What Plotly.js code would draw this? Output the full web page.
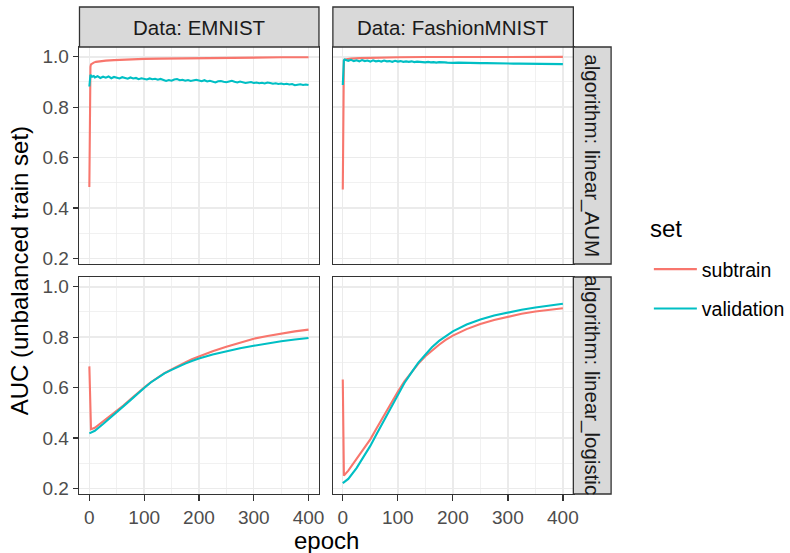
<!DOCTYPE html>
<html>
<head>
<meta charset="utf-8">
<script src="https://cdn.plot.ly/plotly-3.0.1.min.js"></script>
<style>html,body{margin:0;padding:0;background:#fff;}#chart{width:790px;height:553px;}</style>
</head>
<body>
<div id="chart"></div>
<script>
// ---------- data ----------
const setNames = ["subtrain", "validation"];
const legendTitle = "set";
const dataNames = ["Data: EMNIST", "Data: FashionMNIST"];
const algoNames = ["algorithm: linear_AUM", "algorithm: linear_logistic"];
const xTicks = [0, 100, 200, 300, 400];
const yTicks = [0.2, 0.4, 0.6, 0.8, 1.0];

// EMNIST / linear_AUM
const emAumSubEpoch = [0, 1, 2, 3, 5, 8, 12, 20, 30, 45, 60, 80, 100, 130, 160, 200, 250, 300, 350, 400];
const emAumSubAuc   = [0.483, 0.900, 0.960, 0.970, 0.974, 0.977, 0.980, 0.983, 0.985, 0.987, 0.989, 0.991, 0.992, 0.993, 0.994, 0.995, 0.996, 0.997, 0.998, 0.998];
const emAumValEpoch = [0, 1, 2, 3, 5, 8, 10, 15, 20, 25, 30, 35, 40, 45, 50, 55, 60, 65, 70, 75, 80, 85, 90, 95, 100,
  105, 110, 115, 120, 125, 130, 135, 140, 145, 150, 155, 160, 165, 170, 175, 180, 185, 190, 195, 200,
  205, 210, 215, 220, 225, 230, 235, 240, 245, 250, 255, 260, 265, 270, 275, 280, 285, 290, 295, 300,
  305, 310, 315, 320, 325, 330, 335, 340, 345, 350, 355, 360, 365, 370, 375, 380, 385, 390, 395, 400];
const emAumValAuc = [0.882, 0.915, 0.928, 0.925, 0.921, 0.924, 0.918, 0.923, 0.916, 0.921, 0.917, 0.922, 0.915, 0.920, 0.918, 0.914, 0.919, 0.916, 0.913, 0.918, 0.914, 0.916, 0.911, 0.915, 0.913,
  0.910, 0.914, 0.911, 0.913, 0.909, 0.912, 0.907, 0.904, 0.908, 0.905, 0.910, 0.912, 0.907, 0.909, 0.905, 0.908, 0.904, 0.906, 0.909, 0.906,
  0.903, 0.907, 0.902, 0.905, 0.900, 0.898, 0.903, 0.904, 0.901, 0.899, 0.902, 0.905, 0.901, 0.898, 0.902, 0.899, 0.896, 0.898, 0.900, 0.896,
  0.898, 0.895, 0.897, 0.894, 0.898, 0.896, 0.893, 0.895, 0.892, 0.894, 0.891, 0.893, 0.890, 0.892, 0.887, 0.889, 0.891, 0.888, 0.890, 0.888];

// FashionMNIST / linear_AUM
const faAumSubEpoch = [0, 1, 2, 4, 8, 15, 30, 60, 100, 150, 250, 400];
const faAumSubAuc   = [0.473, 0.930, 0.985, 0.989, 0.991, 0.993, 0.995, 0.997, 0.998, 0.999, 0.9995, 0.9998];
const faAumValEpoch = [0, 1, 2, 3, 5, 10, 15, 20, 25, 30, 35, 40, 45, 50, 55, 60, 65, 70, 75, 80, 85, 90, 95, 100,
  105, 110, 115, 120, 125, 130, 135, 140, 145, 150, 155, 160, 165, 170, 175, 180, 185, 190, 195, 200,
  210, 220, 230, 240, 250, 260, 270, 280, 290, 300, 310, 320, 330, 340, 350, 360, 370, 380, 390, 400];
const faAumValAuc = [0.888, 0.960, 0.985, 0.989, 0.987, 0.984, 0.988, 0.983, 0.986, 0.982, 0.987, 0.983, 0.985, 0.981, 0.986, 0.982, 0.984, 0.981, 0.985, 0.982, 0.983, 0.980, 0.984, 0.981,
  0.983, 0.980, 0.982, 0.980, 0.982, 0.979, 0.981, 0.979, 0.980, 0.978, 0.980, 0.978, 0.979, 0.977, 0.979, 0.977, 0.978, 0.977, 0.978, 0.976,
  0.977, 0.976, 0.976, 0.975, 0.975, 0.975, 0.974, 0.974, 0.974, 0.974, 0.973, 0.973, 0.973, 0.973, 0.972, 0.972, 0.972, 0.972, 0.971, 0.971];

// EMNIST / linear_logistic
const emLogSubEpoch = [0, 3, 10, 25, 37, 50, 62, 75, 87, 100, 112, 125, 137, 150, 162, 175, 187, 200, 225, 250, 275, 300, 325, 350, 375, 400];
const emLogSubAuc   = [0.684, 0.434, 0.440, 0.465, 0.484, 0.505, 0.528, 0.553, 0.577, 0.600, 0.621, 0.640, 0.657, 0.672, 0.687, 0.700, 0.712, 0.724, 0.744, 0.762, 0.779, 0.794, 0.805, 0.815, 0.823, 0.830];
const emLogValEpoch = [0, 10, 25, 37, 50, 62, 75, 87, 100, 112, 125, 137, 150, 162, 175, 187, 200, 225, 250, 275, 300, 325, 350, 375, 400];
const emLogValAuc   = [0.418, 0.428, 0.455, 0.477, 0.500, 0.525, 0.550, 0.575, 0.598, 0.620, 0.640, 0.656, 0.670, 0.683, 0.695, 0.705, 0.715, 0.731, 0.745, 0.756, 0.766, 0.776, 0.784, 0.791, 0.797];

// FashionMNIST / linear_logistic
const faLogSubEpoch = [0, 2, 10, 25, 37, 50, 62, 75, 87, 100, 112, 125, 137, 150, 162, 175, 187, 200, 225, 250, 275, 300, 325, 350, 375, 400];
const faLogSubAuc   = [0.632, 0.250, 0.270, 0.315, 0.352, 0.394, 0.440, 0.490, 0.537, 0.583, 0.624, 0.660, 0.694, 0.724, 0.748, 0.770, 0.789, 0.806, 0.832, 0.852, 0.868, 0.882, 0.893, 0.902, 0.909, 0.915];
const faLogValEpoch = [0, 10, 25, 37, 50, 62, 75, 87, 100, 112, 125, 137, 150, 162, 175, 187, 200, 225, 250, 275, 300, 325, 350, 375, 400];
const faLogValAuc   = [0.220, 0.237, 0.280, 0.320, 0.368, 0.417, 0.470, 0.522, 0.572, 0.618, 0.660, 0.698, 0.730, 0.760, 0.785, 0.805, 0.823, 0.850, 0.870, 0.886, 0.898, 0.909, 0.918, 0.926, 0.933];

const setColors = ["#F8766D", "#00BFC4"];

// ---------- layout geometry (pixels in a 790x553 figure) ----------
const W = 790, H = 553;
const px = v => v / W;
const py = v => (H - v) / H;
const colX = [[80, 321], [335, 577]];
const rowY = [[47, 264], [277, 494]];

const FONT = "Liberation Sans, Arial, Helvetica, sans-serif";

function mk(ep, auc, setIdx, ax, showLeg) {
  return {
    x: ep, y: auc, type: "scatter", mode: "lines",
    name: setNames[setIdx], legendgroup: setNames[setIdx], showlegend: showLeg,
    line: { color: setColors[setIdx], width: 2.1 },
    xaxis: ax[0], yaxis: ax[1], hoverinfo: "x+y+name"
  };
}

const traces = [
  mk(emAumSubEpoch, emAumSubAuc, 0, ["x", "y"], true),
  mk(emAumValEpoch, emAumValAuc, 1, ["x", "y"], true),
  mk(faAumSubEpoch, faAumSubAuc, 0, ["x2", "y2"], false),
  mk(faAumValEpoch, faAumValAuc, 1, ["x2", "y2"], false),
  mk(emLogSubEpoch, emLogSubAuc, 0, ["x3", "y3"], false),
  mk(emLogValEpoch, emLogValAuc, 1, ["x3", "y3"], false),
  mk(faLogSubEpoch, faLogSubAuc, 0, ["x4", "y4"], false),
  mk(faLogValEpoch, faLogValAuc, 1, ["x4", "y4"], false)
];

function xa(col, anchor, labels) {
  return {
    domain: [px(colX[col][0]), px(colX[col][1])], anchor: anchor,
    range: [-18, 419], tickmode: "array", tickvals: xTicks, ticktext: xTicks.map(String),
    showgrid: true, gridcolor: "#EBEBEB", gridwidth: 1.4,
    minor: { tickmode: "array", tickvals: [50, 150, 250, 350], showgrid: true, gridcolor: "#EBEBEB", gridwidth: 0.7 },
    zeroline: false, showline: true, mirror: true, linecolor: "#333333", linewidth: 1.3,
    ticks: labels ? "outside" : "", ticklen: 5.5, tickwidth: 1.3, tickcolor: "#333333",
    showticklabels: labels, tickfont: { family: FONT, size: 19, color: "#4D4D4D" }
  };
}
function ya(row, anchor, labels) {
  return {
    domain: [py(rowY[row][1]), py(rowY[row][0])], anchor: anchor,
    range: [0.177, 1.039], tickmode: "array", tickvals: yTicks, ticktext: yTicks.map(v => v.toFixed(1)),
    showgrid: true, gridcolor: "#EBEBEB", gridwidth: 1.4,
    minor: { tickmode: "array", tickvals: [0.3, 0.5, 0.7, 0.9], showgrid: true, gridcolor: "#EBEBEB", gridwidth: 0.7 },
    zeroline: false, showline: true, mirror: true, linecolor: "#333333", linewidth: 1.3,
    ticks: labels ? "outside" : "", ticklen: 5.5, tickwidth: 1.3, tickcolor: "#333333",
    showticklabels: labels, tickfont: { family: FONT, size: 19, color: "#4D4D4D" }
  };
}

const shapes = [];
const annotations = [];
// top strips
colX.forEach((c, i) => {
  shapes.push({ type: "rect", xref: "paper", yref: "paper", x0: px(c[0]), x1: px(c[1]), y0: py(47), y1: py(7),
    fillcolor: "#D9D9D9", line: { color: "#333333", width: 1.3 } });
  annotations.push({ xref: "paper", yref: "paper", x: px((c[0] + c[1]) / 2), y: py(27), text: dataNames[i],
    showarrow: false, xanchor: "center", yanchor: "middle", font: { family: FONT, size: 20.5, color: "#1A1A1A" } });
});
// right strips
rowY.forEach((r, i) => {
  shapes.push({ type: "rect", xref: "paper", yref: "paper", x0: px(577), x1: px(615), y0: py(r[1]), y1: py(r[0]),
    fillcolor: "#D9D9D9", line: { color: "#333333", width: 1.3 } });
  annotations.push({ xref: "paper", yref: "paper", x: px(596), y: py((r[0] + r[1]) / 2), text: algoNames[i],
    showarrow: false, textangle: 90, xanchor: "center", yanchor: "middle", font: { family: FONT, size: 20.5, color: "#1A1A1A" } });
});
// axis titles
annotations.push({ xref: "paper", yref: "paper", x: px(328.5), y: py(540), text: "epoch", showarrow: false,
  xanchor: "center", yanchor: "middle", font: { family: FONT, size: 24, color: "#000000" } });
annotations.push({ xref: "paper", yref: "paper", x: px(20), y: py(270.5), text: "AUC (unbalanced train set)", showarrow: false,
  textangle: -90, xanchor: "center", yanchor: "middle", font: { family: FONT, size: 24, color: "#000000" } });
// legend title
annotations.push({ xref: "paper", yref: "paper", x: px(652), y: py(228), text: legendTitle, showarrow: false,
  xanchor: "left", yanchor: "middle", font: { family: FONT, size: 24, color: "#000000" } });

const layout = {
  width: W, height: H, margin: { l: 0, r: 0, t: 0, b: 0 },
  paper_bgcolor: "#FFFFFF", plot_bgcolor: "#FFFFFF",
  font: { family: FONT, size: 19, color: "#4D4D4D" },
  showlegend: true,
  legend: {
    x: px(653), xanchor: "left", y: py(250), yanchor: "top",
    font: { family: FONT, size: 19.5, color: "#000000" },
    itemwidth: 43,
    tracegroupgap: 11, bgcolor: "rgba(0,0,0,0)", borderwidth: 0
  },
  xaxis: xa(0, "y", false), yaxis: ya(0, "x", true),
  xaxis2: xa(1, "y2", false), yaxis2: ya(0, "x2", false),
  xaxis3: xa(0, "y3", true), yaxis3: ya(1, "x3", true),
  xaxis4: xa(1, "y4", true), yaxis4: ya(1, "x4", false),
  shapes: shapes, annotations: annotations
};

Plotly.newPlot("chart", traces, layout, { staticPlot: true, displayModeBar: false });
</script>
</body>
</html>
